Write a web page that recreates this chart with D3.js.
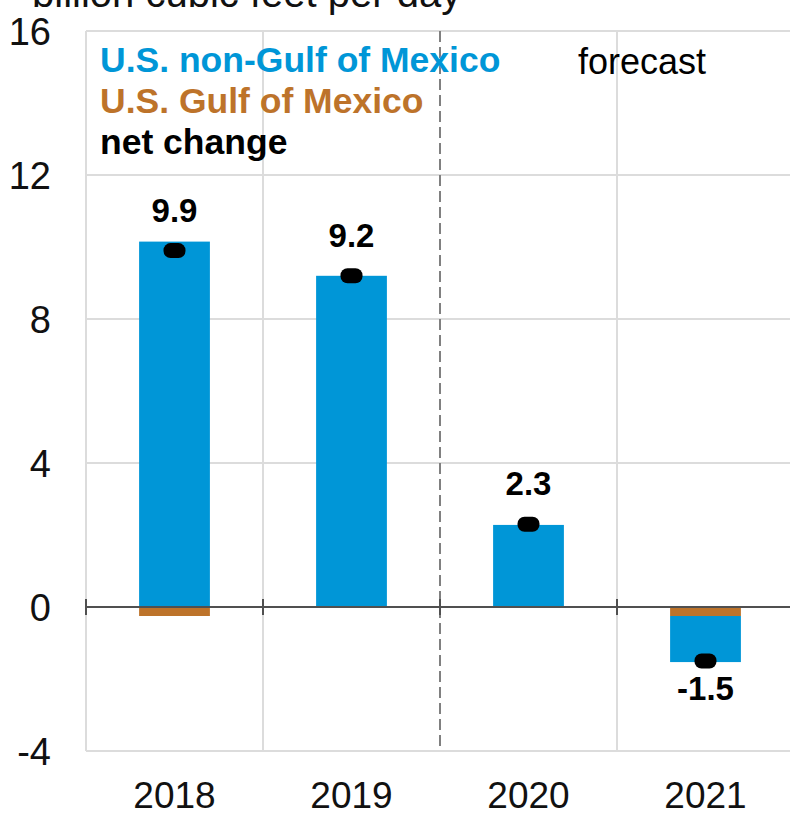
<!DOCTYPE html>
<html>
<head>
<meta charset="utf-8">
<script src="https://cdn.jsdelivr.net/npm/d3@7"></script>
<style>
  body { margin: 0; background: #fff; }
  text { font-family: "Liberation Sans", Arial, sans-serif; }
</style>
</head>
<body>
<div id="main"></div>
<script>
// data
var years = ["2018", "2019", "2020", "2021"];
var nonGulf = [10.15, 9.2, 2.28, -1.28];
var gulf = [-0.25, 0.0, 0.0, -0.25];
var netChange = [9.9, 9.2, 2.3, -1.5];
var netLabels = ["9.9", "9.2", "2.3", "-1.5"];
var yTicks = [-4, 0, 4, 8, 12, 16];
var forecastFrom = "2020";

var w = 790,
	h = 817;

var blue = "#0096d7",
	brown = "#bd732a";

var x = d3.scaleBand()
	.domain(years)
	.range([86, 794]);

var y = d3.scaleLinear()
	.domain([-4, 16])
	.range([751, 31]);

var barW = x.bandwidth() * 0.4;

var svg = d3.select("#main")
	.append("svg")
	.attr("width", w)
	.attr("height", h);

// horizontal gridlines
svg.append("g")
	.selectAll("line")
	.data(yTicks)
	.enter()
	.append("line")
	.attr("x1", 86)
	.attr("x2", w)
	.attr("y1", function(d) { return y(d); })
	.attr("y2", function(d) { return y(d); })
	.attr("stroke", "#dcdcdc")
	.attr("stroke-width", 2);

// vertical gridlines at band edges
svg.append("g")
	.selectAll("line")
	.data(years)
	.enter()
	.append("line")
	.attr("x1", function(d) { return x(d); })
	.attr("x2", function(d) { return x(d); })
	.attr("y1", y(16))
	.attr("y2", y(-4))
	.attr("stroke", function(d) { return d === forecastFrom ? "#808080" : "#dcdcdc"; })
	.attr("stroke-width", 2)
	.attr("stroke-dasharray", function(d) { return d === forecastFrom ? "11,5" : null; });

// y tick labels
svg.append("g")
	.selectAll("text")
	.data(yTicks)
	.enter()
	.append("text")
	.attr("x", 51)
	.attr("y", function(d) { return y(d); })
	.attr("dy", "0.36em")
	.attr("text-anchor", "end")
	.style("font-size", "38px")
	.attr("fill", "#111")
	.text(function(d) { return d; });

// stacked bars
var rows = years.map(function(yr, i) {
	return { year: yr, gulf: gulf[i], nonGulf: nonGulf[i] };
});

var series = d3.stack()
	.keys(["gulf", "nonGulf"])
	.offset(d3.stackOffsetDiverging)(rows);

var colors = { gulf: brown, nonGulf: blue };

svg.append("g")
	.selectAll("g")
	.data(series)
	.enter()
	.append("g")
	.attr("fill", function(s) { return colors[s.key]; })
	.selectAll("rect")
	.data(function(s) { return s; })
	.enter()
	.append("rect")
	.attr("x", function(d) { return x(d.data.year) + (x.bandwidth() - barW) / 2; })
	.attr("width", barW)
	.attr("y", function(d) { return y(Math.max(d[0], d[1])); })
	.attr("height", function(d) { return Math.abs(y(d[0]) - y(d[1])); });

// zero line with ticks
svg.append("line")
	.attr("x1", 86)
	.attr("x2", w)
	.attr("y1", y(0))
	.attr("y2", y(0))
	.attr("stroke", "#505050")
	.attr("stroke-width", 2);

svg.append("g")
	.selectAll("line")
	.data(years)
	.enter()
	.append("line")
	.attr("x1", function(d) { return x(d); })
	.attr("x2", function(d) { return x(d); })
	.attr("y1", y(0) - 8)
	.attr("y2", y(0) + 8)
	.attr("stroke", "#505050")
	.attr("stroke-width", 2);

// net change markers
svg.append("g")
	.selectAll("rect")
	.data(netChange)
	.enter()
	.append("rect")
	.attr("x", function(d, i) { return x(years[i]) + x.bandwidth() / 2 - 11; })
	.attr("y", function(d) { return y(d) - 7.5; })
	.attr("width", 22)
	.attr("height", 15)
	.attr("rx", 7)
	.attr("fill", "#000");

svg.append("g")
	.selectAll("text")
	.data(netChange)
	.enter()
	.append("text")
	.attr("x", function(d, i) { return x(years[i]) + x.bandwidth() / 2; })
	.attr("y", function(d) { return d >= 0 ? y(d) - 29 : y(d) + 39; })
	.attr("text-anchor", "middle")
	.style("font-size", "33px")
	.style("font-weight", "bold")
	.attr("fill", "#000")
	.text(function(d, i) { return netLabels[i]; });

// x labels
svg.append("g")
	.selectAll("text")
	.data(years)
	.enter()
	.append("text")
	.attr("x", function(d) { return x(d) + x.bandwidth() / 2; })
	.attr("y", 808)
	.attr("text-anchor", "middle")
	.style("font-size", "37px")
	.attr("fill", "#111")
	.text(function(d) { return d; });

// title (cut off at the top, as in the source image)
svg.append("text")
	.attr("x", 32)
	.attr("y", 7)
	.style("font-size", "40px")
	.attr("fill", "#111")
	.text("billion cubic  feet per day");

// legend
var legend = [
	{ label: "U.S. non-Gulf of Mexico", color: blue },
	{ label: "U.S. Gulf of Mexico", color: brown },
	{ label: "net change", color: "#000" }
];

svg.append("g")
	.selectAll("text")
	.data(legend)
	.enter()
	.append("text")
	.attr("x", 100)
	.attr("y", function(d, i) { return 72 + i * 41; })
	.style("font-size", "35.5px")
	.style("font-weight", "bold")
	.attr("fill", function(d) { return d.color; })
	.text(function(d) { return d.label; });

svg.append("text")
	.attr("x", 578)
	.attr("y", 74)
	.style("font-size", "36px")
	.attr("fill", "#000")
	.text("forecast");
</script>
</body>
</html>
